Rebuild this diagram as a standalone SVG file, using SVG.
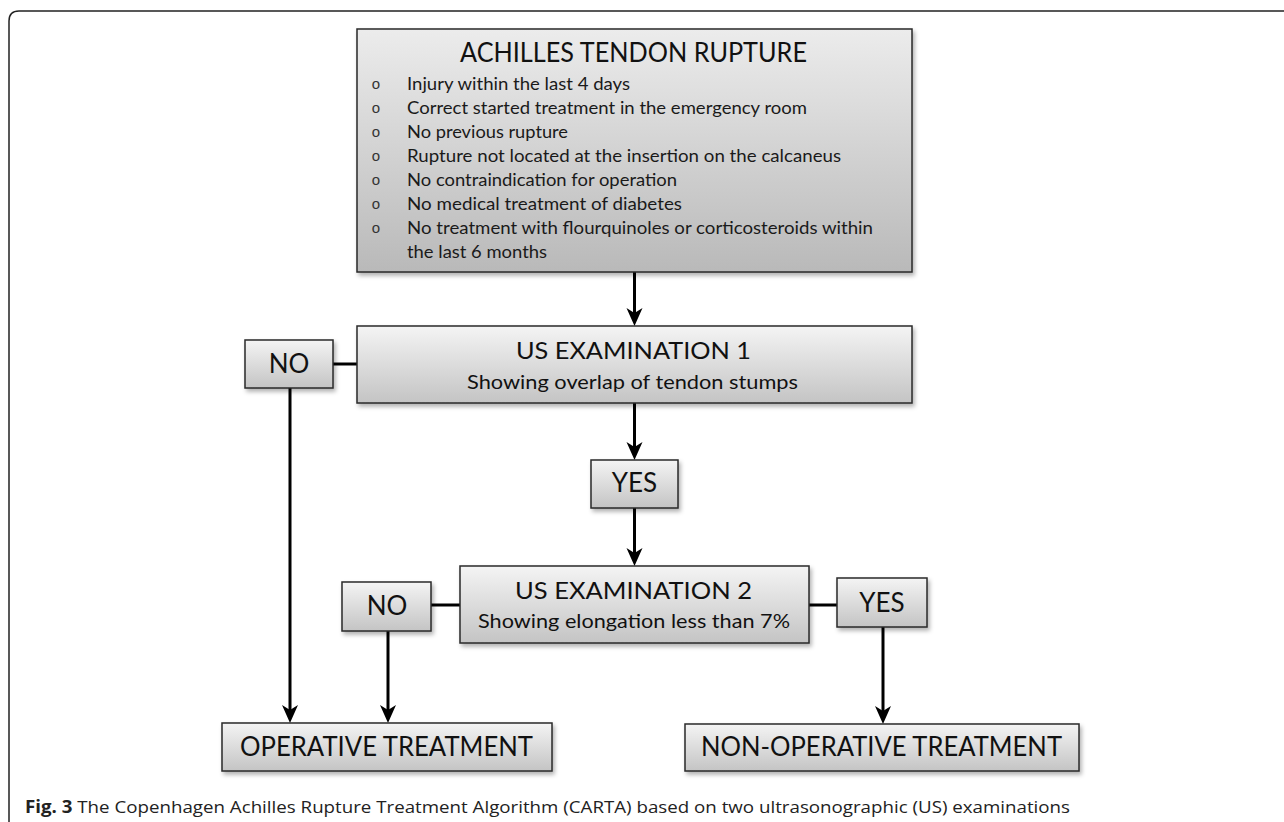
<svg xmlns="http://www.w3.org/2000/svg" width="1284" height="822" viewBox="0 0 1284 822">
<style>
.box{stroke:#2a2a2a;stroke-width:1.5;filter:url(#sh)}
.g1{fill:url(#grad)}
.g0{fill:url(#gradMain)}
.t{font-family:Lato,"Open Sans","Liberation Sans",sans-serif;fill:#111}
.big{font-size:26px}
.mid{font-size:23px}
.sub{font-size:19px}
.body{font-size:17.5px;fill:#1a1a1a}
.bul{font-family:"Liberation Sans",sans-serif;font-size:15px;fill:#333}
.conn{stroke:#000;stroke-width:3;fill:none}
.cap{font-family:"Open Sans","Liberation Sans",sans-serif;font-size:17px;fill:#222}
</style>
<defs>
<linearGradient id="grad" x1="0" y1="0" x2="0" y2="1">
<stop offset="0" stop-color="#f4f4f4"/>
<stop offset="1" stop-color="#c4c4c4"/>
</linearGradient>
<linearGradient id="gradMain" x1="0" y1="0" x2="0" y2="1">
<stop offset="0" stop-color="#ececec"/>
<stop offset="1" stop-color="#b9b9b9"/>
</linearGradient>
<filter id="sh" x="-10%" y="-10%" width="125%" height="140%">
<feDropShadow dx="2" dy="3" stdDeviation="2" flood-color="#000" flood-opacity="0.3"/>
</filter>
<marker id="arr" markerUnits="userSpaceOnUse" markerWidth="20" markerHeight="18" refX="12" refY="8" orient="auto" viewBox="0 0 20 18">
<path d="M0,0 L18,8 L0,16 L5,8 z" fill="#000"/>
</marker>
</defs>

<path d="M9,822 L9,21 Q9,11 19,11 L1284,11" fill="none" stroke="#222" stroke-width="1.5"/>

<g id="connectors">
<line class="conn" x1="634.5" y1="272" x2="634.5" y2="320" marker-end="url(#arr)"/>
<line class="conn" x1="634.5" y1="403" x2="634.5" y2="454" marker-end="url(#arr)"/>
<line class="conn" x1="634.5" y1="508" x2="634.5" y2="560" marker-end="url(#arr)"/>
<line class="conn" x1="333" y1="364" x2="357" y2="364"/>
<line class="conn" x1="290" y1="388" x2="290" y2="717" marker-end="url(#arr)"/>
<line class="conn" x1="431" y1="605" x2="460" y2="605"/>
<line class="conn" x1="388" y1="631" x2="388" y2="717" marker-end="url(#arr)"/>
<line class="conn" x1="809" y1="605" x2="837" y2="605"/>
<line class="conn" x1="883" y1="627" x2="883" y2="718" marker-end="url(#arr)"/>
</g>

<g id="achilles">
<rect class="box g0" x="357" y="29" width="555" height="243"/>
<text class="t big" x="460" y="62" textLength="347" lengthAdjust="spacingAndGlyphs">ACHILLES TENDON RUPTURE</text>
<g class="bul" text-anchor="middle">
<text x="376" y="89">o</text>
<text x="376" y="113">o</text>
<text x="376" y="137">o</text>
<text x="376" y="161">o</text>
<text x="376" y="185">o</text>
<text x="376" y="209">o</text>
<text x="376" y="233">o</text>
</g>
<text class="t body" x="407" y="90" textLength="223" lengthAdjust="spacingAndGlyphs">Injury within the last 4 days</text>
<text class="t body" x="407" y="114" textLength="400" lengthAdjust="spacingAndGlyphs">Correct started treatment in the emergency room</text>
<text class="t body" x="407" y="138" textLength="161" lengthAdjust="spacingAndGlyphs">No previous rupture</text>
<text class="t body" x="407" y="162" textLength="434" lengthAdjust="spacingAndGlyphs">Rupture not located at the insertion on the calcaneus</text>
<text class="t body" x="407" y="186" textLength="270" lengthAdjust="spacingAndGlyphs">No contraindication for operation</text>
<text class="t body" x="407" y="210" textLength="275" lengthAdjust="spacingAndGlyphs">No medical treatment of diabetes</text>
<text class="t body" x="407" y="234" textLength="466" lengthAdjust="spacingAndGlyphs">No treatment with flourquinoles or corticosteroids within</text>
<text class="t body" x="407" y="258" textLength="140" lengthAdjust="spacingAndGlyphs">the last 6 months</text>
</g>

<g id="us1">
<rect class="box g1" x="357" y="326" width="555" height="77"/>
<text class="t mid" x="516" y="359" textLength="235" lengthAdjust="spacingAndGlyphs">US EXAMINATION 1</text>
<text class="t sub" x="467" y="389" textLength="331" lengthAdjust="spacingAndGlyphs">Showing overlap of tendon stumps</text>
</g>

<g id="no1">
<rect class="box g1" x="245" y="340" width="88" height="48"/>
<text class="t big" x="289" y="373" text-anchor="middle">NO</text>
</g>

<g id="yes1">
<rect class="box g1" x="591" y="460" width="87" height="48"/>
<text class="t big" x="634.5" y="492" text-anchor="middle">YES</text>
</g>

<g id="us2">
<rect class="box g1" x="460" y="566" width="349" height="77"/>
<text class="t mid" x="515" y="599" textLength="237" lengthAdjust="spacingAndGlyphs">US EXAMINATION 2</text>
<text class="t sub" x="478" y="628" textLength="312" lengthAdjust="spacingAndGlyphs">Showing elongation less than 7%</text>
</g>

<g id="no2">
<rect class="box g1" x="342" y="582" width="89" height="49"/>
<text class="t big" x="387" y="615" text-anchor="middle">NO</text>
</g>

<g id="yes2">
<rect class="box g1" x="837" y="578" width="90" height="49"/>
<text class="t big" x="882" y="612" text-anchor="middle">YES</text>
</g>

<g id="operative">
<rect class="box g1" x="222" y="723" width="330" height="48"/>
<text class="t big" x="240" y="756" textLength="293" lengthAdjust="spacingAndGlyphs">OPERATIVE TREATMENT</text>
</g>

<g id="nonoperative">
<rect class="box g1" x="685" y="724" width="394" height="47"/>
<text class="t big" x="701" y="756" textLength="361" lengthAdjust="spacingAndGlyphs">NON-OPERATIVE TREATMENT</text>
</g>

<text class="cap" x="25" y="813" textLength="1045" lengthAdjust="spacingAndGlyphs"><tspan font-weight="bold">Fig. 3</tspan> The Copenhagen Achilles Rupture Treatment Algorithm (CARTA) based on two ultrasonographic (US) examinations</text>
</svg>
